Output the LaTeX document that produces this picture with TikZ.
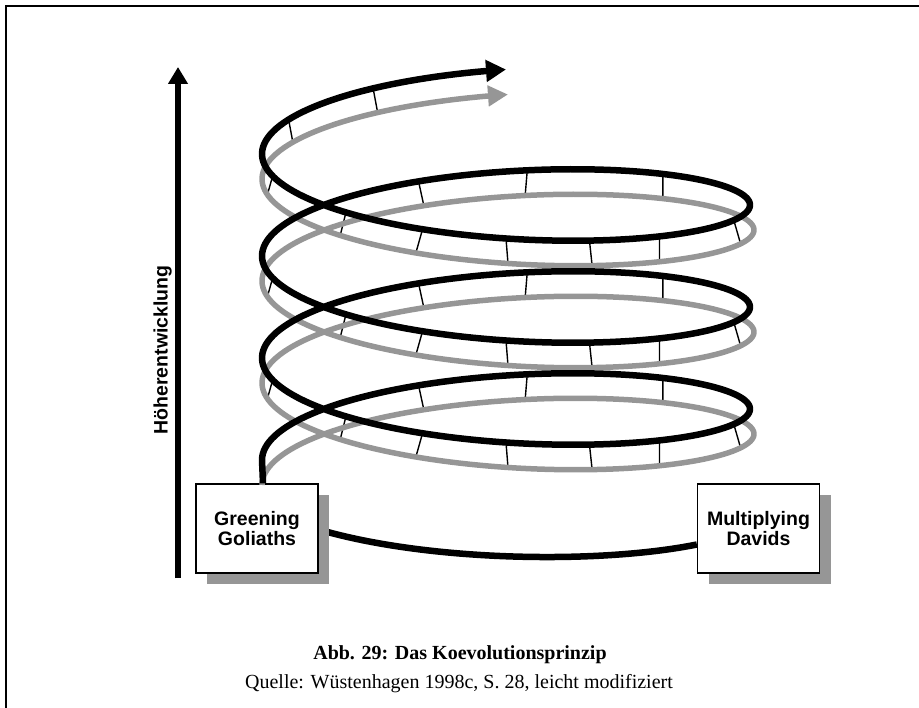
\documentclass[tikz,border=0pt]{standalone}
\usepackage{fontspec}
\setmainfont{Liberation Serif}
\newfontfamily\arialf{Liberation Sans}
\usetikzlibrary{arrows.meta,shadows,backgrounds}
\definecolor{sgray}{RGB}{150,150,150}
\definecolor{shgray}{RGB}{150,150,150}
\begin{document}
\begin{tikzpicture}[x=1pt,y=-1pt,
  blackline/.style={line width=6.5pt,black,line join=round},
  grayline/.style={line width=5.5pt,sgray,line join=round},
  tickline/.style={line width=1.4pt,black},
  actorbox/.style={draw=black,line width=1.3pt,fill=white,minimum width=122pt,minimum height=89pt,
    inner sep=0pt,align=center,font=\arialf\bfseries\fontsize{19.5}{20}\selectfont,
    drop shadow={shadow xshift=11pt,shadow yshift=-11pt,fill=shgray,opacity=1}},
  captitle/.style={anchor=base,inner sep=0pt,font=\bfseries\fontsize{20}{24}\selectfont},
  capsrc/.style={anchor=base,inner sep=0pt,font=\fontsize{20}{24}\selectfont}
]
\useasboundingbox (0,0) rectangle (919,708);
% frame
\draw[line width=2pt] (6,708) -- (6,6) -- (919,6);

% boxes
\node[actorbox] (gg) at (257,528.5) {Greening\\Goliaths};
\node[actorbox] (md) at (758.5,528.5) {Multiplying\\Davids};

% bottom connector (behind boxes)
\begin{scope}[on background layer]
\draw[blackline] ([yshift=-1pt]gg.east) .. controls (430,562) and (600,564) .. ([yshift=-16pt]md.west);
\end{scope}

% ticks (rungs between the two spirals)
\foreach \k in {0,1,2}{
  \foreach \a/\b in {69/70,95/94,130/129,201/199,231/232,250/250,270/270,290/292,311/313,343/348}{
    \pgfmathsetmacro\ta{\a+360*\k}
    \pgfmathsetmacro\tb{\b+360*\k}
    \draw[tickline] ({506-244*cos(\ta)},{460-0.2833333*\ta-59*sin(\ta)}) -- ({508-246*cos(\tb)},{485-0.2833333*\tb-59*sin(\tb)});
  }
}
\foreach \a/\b in {1107/1109,1137/1138}{
  \draw[tickline] ({506-244*cos(\a)},{460-0.2833333*\a-59*sin(\a)}) -- ({508-246*cos(\b)},{485-0.2833333*\b-59*sin(\b)});
}

% gray spiral
\draw[grayline,-{Triangle[length=20pt,width=20pt]}] plot[domain=0:1170,samples=500,variable=\t]
  ({508-246*cos(\t)},{485-0.2833333*\t-59*sin(\t)});

% black spiral
\draw[blackline,-{Triangle[length=20pt,width=21pt]}] ([xshift=6pt]gg.north) -- plot[domain=0:1170,samples=500,variable=\t]
  ({506-244*cos(\t)},{460-0.2833333*\t-59*sin(\t)});

% vertical axis
\coordinate (axbot) at (178,578);
\coordinate (axtop) at (178,67);
\draw[line width=6pt,-{Triangle[length=17pt,width=19pt]}] (axbot) -- (axtop);
\node[rotate=90,inner sep=0pt,font=\arialf\bfseries\fontsize{19.5}{20}\selectfont] (ylab) at (162.5,350) {Höherentwicklung};

% caption
\node[captitle] (title) at (460,659) {Abb. 29: Das Koevolutionsprinzip};
\node[capsrc] (src) at (459,688) {Quelle: Wüstenhagen 1998c, S. 28, leicht modifiziert};
\end{tikzpicture}
\end{document}
